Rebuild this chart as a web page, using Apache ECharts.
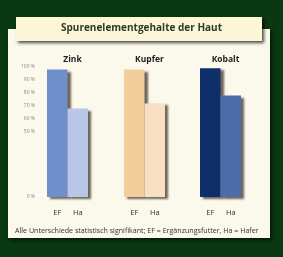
<!DOCTYPE html>
<html><head><meta charset="utf-8">
<script src="https://cdn.jsdelivr.net/npm/echarts@6/dist/echarts.min.js"></script>
<style>html,body{margin:0;padding:0;background:#0a3810;}#c{width:283px;height:257px;}</style>
</head><body><div id="c"></div>
<script>
const title = 'Spurenelementgehalte der Haut';
const elements = ['Zink', 'Kupfer', 'Kobalt'];
const groups = ['EF', 'Ha'];
const efValues = [98, 98, 99];
const haValues = [68, 72, 78];
const shownTicks = [0, 50, 60, 70, 80, 90, 100];
const footnote = 'Alle Unterschiede statistisch signifikant; EF = Ergänzungsfutter, Ha = Hafer';

const colors = [['#6f8fca', '#b9c6e8'], ['#f3cd9b', '#f8dfc4'], ['#0f2f6b', '#4d6ca8']];
const gridLefts = [47, 124, 200];
const gridW = 41;
const chart = echarts.init(document.getElementById('c'), null, {renderer: 'canvas'});

const grids = [], xAxes = [], yAxes = [], series = [], titles = [];
elements.forEach((el, i) => {
  grids.push({left: gridLefts[i], width: gridW, top: 67, height: 130});
  xAxes.push({type: 'category', gridIndex: i, data: groups,
    axisLine: {show: false}, axisTick: {show: false},
    axisLabel: {color: '#333', fontSize: 7.5, margin: 12, fontFamily: 'Open Sans'}});
  yAxes.push({type: 'value', gridIndex: i, min: 0, max: 100, interval: 10,
    splitLine: {show: false}, axisLine: {show: false}, axisTick: {show: false},
    axisLabel: {show: i === 0, color: '#888', fontSize: 5, margin: 12, fontFamily: 'Open Sans',
      formatter: v => shownTicks.indexOf(v) >= 0 ? v + ' %' : ''}});
  series.push({type: 'bar', xAxisIndex: i, yAxisIndex: i, barWidth: '100%', barGap: 0,
    data: [efValues[i], haValues[i]].map((v, j) => ({value: v, itemStyle: {color: colors[i][j],
      shadowColor: 'rgba(50,40,25,0.7)', shadowOffsetX: 3, shadowOffsetY: 2, shadowBlur: 2}}))});
  titles.push({text: el, left: gridLefts[i] + gridW / 2, top: 50, textAlign: 'center',
    textStyle: {fontSize: 8.5, fontWeight: 'bold', color: '#222', fontFamily: 'Open Sans'}});
});

chart.setOption({
  animation: false,
  backgroundColor: '#0a3810',
  title: titles,
  grid: grids, xAxis: xAxes, yAxis: yAxes, series: series,
  graphic: [
    {type: 'rect', left: 8, top: 29, shape: {width: 262, height: 209}, z: -10,
      style: {fill: '#fbf8ec', shadowColor: 'rgba(0,0,0,0.6)', shadowBlur: 4, shadowOffsetX: 2, shadowOffsetY: 2}},
    {type: 'rect', left: 16, top: 17, shape: {width: 246, height: 24}, z: -5,
      style: {fill: '#fbf7d6', shadowColor: 'rgba(0,0,0,0.7)', shadowBlur: 3, shadowOffsetX: 2, shadowOffsetY: 2}},
    {type: 'text', left: 'center', top: 23, z: 10,
      style: {text: title, fontSize: 10, fontWeight: 'bold', fill: '#2c3a2a', fontFamily: 'Open Sans'}},
    {type: 'text', left: 15, top: 227, z: 10,
      style: {text: footnote, fontSize: 7.1, fill: '#333', fontFamily: 'Open Sans'}}
  ]
});
</script></body></html>
